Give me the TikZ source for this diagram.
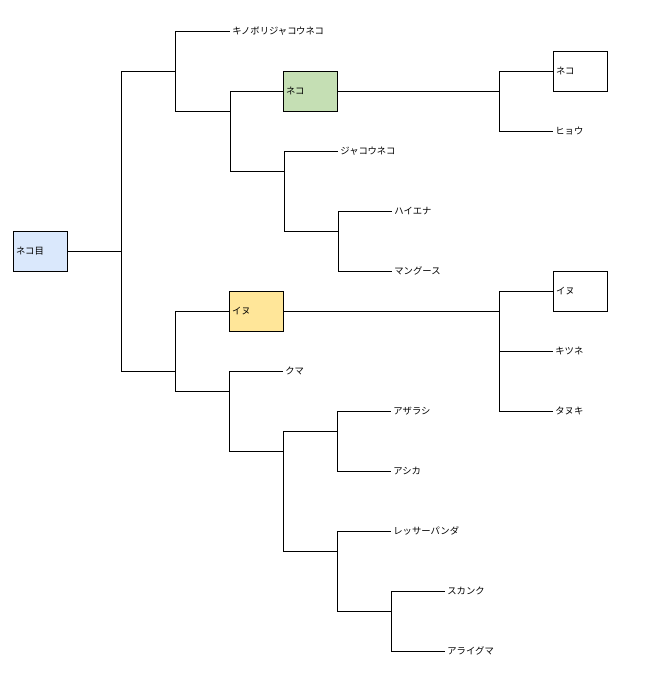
\documentclass[tikz,border=0pt]{standalone}
\usepackage{fontspec}
\newfontfamily\jpfont{Noto Sans CJK JP}
\usetikzlibrary{positioning}
\definecolor{rootblue}{HTML}{DAE8FC}
\definecolor{nekogreen}{HTML}{C5DFB4}
\definecolor{inuyellow}{HTML}{FFE699}
\tikzset{
  box/.style={draw, anchor=west, minimum height=30pt, text width=36.5pt,
              inner sep=2pt, align=left, font=\jpfont\fontsize{7}{8}\selectfont},
  lbl/.style={anchor=west, inner sep=1.5pt, font=\jpfont\fontsize{7}{8}\selectfont},
}
\begin{document}
\begin{tikzpicture}[x=0.75pt,y=-0.75pt,line width=0.6pt]
\useasboundingbox (0,0) rectangle (645,674);
% boxes
\node[box,fill=rootblue] (root) at (13,251) {ネコ目};
\node[box,fill=nekogreen] (neko) at (283,91) {ネコ};
\node[box] (neko2) at (553,71) {ネコ};
\node[box,fill=inuyellow] (inu) at (229,311) {イヌ};
\node[box] (inu2) at (553,291) {イヌ};
% labels
\node[lbl] (kinobori) at (230,31) {キノボリジャコウネコ};
\node[lbl] (jakou) at (338,151) {ジャコウネコ};
\node[lbl] (hyena) at (392,211) {ハイエナ};
\node[lbl] (mongoose) at (392,271) {マングース};
\node[lbl] (hyou) at (553,131) {ヒョウ};
\node[lbl] (kuma) at (283,371) {クマ};
\node[lbl] (azarashi) at (391,411) {アザラシ};
\node[lbl] (ashika) at (391,471) {アシカ};
\node[lbl] (lesser) at (391,531) {レッサーパンダ};
\node[lbl] (skunk) at (445,591) {スカンク};
\node[lbl] (araiguma) at (445,651) {アライグマ};
\node[lbl] (kitsune) at (553,351) {キツネ};
\node[lbl] (tanuki) at (553,411) {タヌキ};
% junctions
\coordinate (j0) at (121,251);
\coordinate (j1) at (175,71);
\coordinate (j2) at (230,111);
\coordinate (j3) at (284,171);
\coordinate (j4) at (338,231);
\coordinate (j5) at (175,371);
\coordinate (j6) at (499,91);
\coordinate (j7) at (229,391);
\coordinate (j8) at (283,451);
\coordinate (j9) at (337,431);
\coordinate (j10) at (337,551);
\coordinate (j11) at (391,611);
\coordinate (j12) at (499,311);
% connectors
\draw (root.east) -- (j0);
\draw (j0) |- (j1);
\draw (j0) |- (j5);
\draw (j1) |- (kinobori.west);
\draw (j1) |- (j2);
\draw (j2) |- (neko.west);
\draw (j2) |- (j3);
\draw (j3) |- (jakou.west);
\draw (j3) |- (j4);
\draw (j4) |- (hyena.west);
\draw (j4) |- (mongoose.west);
\draw (neko.east) -- (j6);
\draw (j6) |- (neko2.west);
\draw (j6) |- (hyou.west);
\draw (j5) |- (inu.west);
\draw (j5) |- (j7);
\draw (j7) |- (kuma.west);
\draw (j7) |- (j8);
\draw (j8) |- (j9);
\draw (j8) |- (j10);
\draw (j9) |- (azarashi.west);
\draw (j9) |- (ashika.west);
\draw (j10) |- (lesser.west);
\draw (j10) |- (j11);
\draw (j11) |- (skunk.west);
\draw (j11) |- (araiguma.west);
\draw (inu.east) -- (j12);
\draw (j12) |- (inu2.west);
\draw (j12) |- (kitsune.west);
\draw (j12) |- (tanuki.west);
\end{tikzpicture}
\end{document}
